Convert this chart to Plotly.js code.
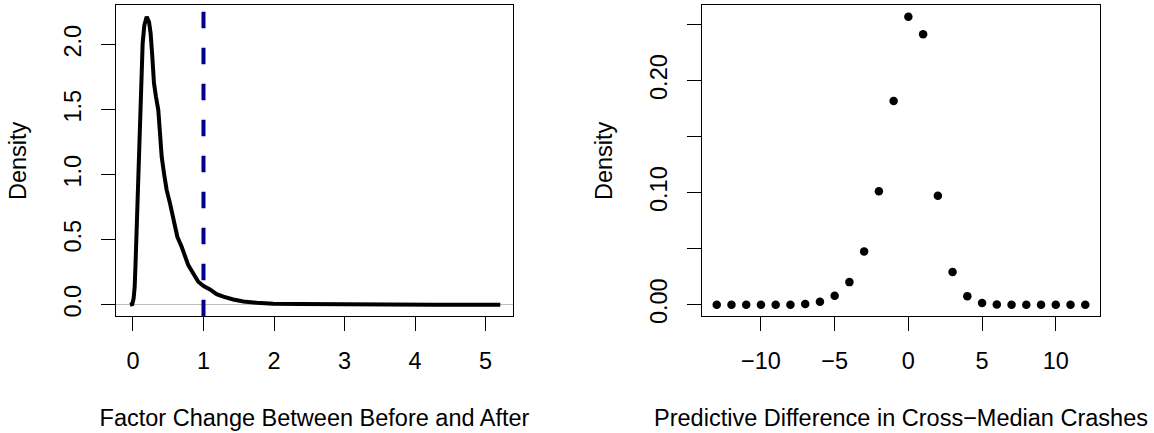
<!DOCTYPE html>
<html>
<head>
<meta charset="utf-8">
<script src="https://cdn.plot.ly/plotly-3.0.1.min.js"></script>
<style>
  html, body { margin: 0; padding: 0; background: #ffffff; }
  #chart { width: 1154px; height: 433px; }
</style>
</head>
<body>
<div id="chart"></div>
<script>
// ---- Left panel: density of the factor change ----
const factorX = [-0.043, -0.01, 0.009, 0.024, 0.038, 0.052, 0.066, 0.080, 0.099, 0.118,
                 0.137, 0.161, 0.194, 0.227, 0.250, 0.274, 0.298, 0.326, 0.359, 0.383,
                 0.407, 0.440, 0.478, 0.525, 0.572, 0.629, 0.690, 0.737, 0.784, 0.855,
                 0.926, 1.002, 1.092, 1.186, 1.281, 1.423, 1.565, 1.754, 1.990, 2.370,
                 2.840, 3.310, 3.790, 4.260, 4.730, 5.210];
const factorDensity = [0.000, 0.005, 0.049, 0.138, 0.344, 0.600, 0.908, 1.215, 1.523, 1.805,
                       2.010, 2.150, 2.215, 2.177, 2.088, 1.908, 1.703, 1.600, 1.498, 1.320,
                       1.138, 1.010, 0.882, 0.780, 0.652, 0.523, 0.446, 0.369, 0.305, 0.241,
                       0.177, 0.144, 0.118, 0.082, 0.062, 0.041, 0.026, 0.016, 0.0085, 0.0059,
                       0.0033, 0.0030, 0.0015, 0.0010, 0.0008, 0.000];
const referenceFactor = 1;
const leftXTicks = [0, 1, 2, 3, 4, 5];
const leftYTicks = [0, 0.5, 1, 1.5, 2];
const leftYTickText = ["0.0", "0.5", "1.0", "1.5", "2.0"];

// ---- Right panel: predictive difference ----
const diffX = [-13, -12, -11, -10, -9, -8, -7, -6, -5, -4, -3, -2, -1,
               0, 1, 2, 3, 4, 5, 6, 7, 8, 9, 10, 11, 12];
const diffDensity = [0, 0, 0, 0, 0, 0, 0.0006, 0.0027, 0.008, 0.0202, 0.0476, 0.1012, 0.1819,
                     0.2569, 0.2414, 0.0973, 0.0292, 0.0077, 0.0015, 0.0003, 0, 0, 0, 0, 0, 0];
const rightXTicks = [-10, -5, 0, 5, 10];
const rightYTicks = [0, 0.05, 0.10, 0.15, 0.20, 0.25];
const rightYTickText = ["0.00", "", "0.10", "", "0.20", ""];

const FONT = "Liberation Sans, Arial, Helvetica, sans-serif";
const FS = 23.5;
const W = 1154, H = 433;

const yDom = [1 - 316.3 / H, 1 - 5.3 / H];

const axisCommon = {
  showline: true, mirror: true, linecolor: "#000", linewidth: 1,
  ticks: "outside", ticklen: 14, tickwidth: 1, tickcolor: "#000",
  showgrid: false, zeroline: false,
  tickfont: { family: FONT, size: FS, color: "#000" },
  fixedrange: true
};

const traces = [
  {
    x: factorX, y: factorDensity, xaxis: "x", yaxis: "y",
    type: "scatter", mode: "lines",
    line: { color: "#000000", width: 4 },
    hoverinfo: "skip", showlegend: false
  },
  {
    x: diffX, y: diffDensity, xaxis: "x2", yaxis: "y2",
    type: "scatter", mode: "markers",
    marker: { color: "#000000", size: 8.5 },
    hoverinfo: "skip", showlegend: false
  }
];

const layout = {
  width: W, height: H,
  margin: { l: 0, r: 0, t: 0, b: 0, pad: 0 },
  paper_bgcolor: "#ffffff", plot_bgcolor: "#ffffff",
  font: { family: FONT, size: FS, color: "#000" },
  showlegend: false,
  xaxis: Object.assign({}, axisCommon, {
    domain: [116 / W, 513 / W], anchor: "y",
    range: [-0.241, 5.39],
    tickvals: leftXTicks, ticktext: leftXTicks.map(String),
    ticklabelstandoff: 9,
    title: { text: "Factor Change Between Before and After", font: { family: FONT, size: FS, color: "#000" }, standoff: 37 }
  }),
  yaxis: Object.assign({}, axisCommon, {
    domain: yDom, anchor: "x",
    range: [-0.0886, 2.3036],
    tickvals: leftYTicks, ticktext: leftYTickText,
    tickangle: -90, ticklabelstandoff: 11,
    zeroline: true, zerolinecolor: "#BEBEBE", zerolinewidth: 1,
    title: { text: "Density", font: { family: FONT, size: FS, color: "#000" }, standoff: 26 }
  }),
  xaxis2: Object.assign({}, axisCommon, {
    domain: [702 / W, 1100 / W], anchor: "y2",
    range: [-14, 13],
    tickvals: rightXTicks,
    ticklabelstandoff: 9,
    title: { text: "Predictive Difference in Cross\u2212Median Crashes", font: { family: FONT, size: FS, color: "#000" }, standoff: 37 }
  }),
  yaxis2: Object.assign({}, axisCommon, {
    domain: yDom, anchor: "x2",
    range: [-0.0103, 0.2672],
    tickvals: rightYTicks, ticktext: rightYTickText,
    tickangle: -90, ticklabelstandoff: 11,
    title: { text: "Density", font: { family: FONT, size: FS, color: "#000" }, standoff: 26 }
  }),
  shapes: [
    {
      type: "line", xref: "x", yref: "y domain",
      x0: referenceFactor, x1: referenceFactor, y0: 0, y1: 1,
      line: { color: "#00008B", width: 4, dash: "16.5px,19.5px" },
      layer: "above"
    }
  ]
};

Plotly.newPlot("chart", traces, layout, { staticPlot: true, displayModeBar: false });
</script>
</body>
</html>
